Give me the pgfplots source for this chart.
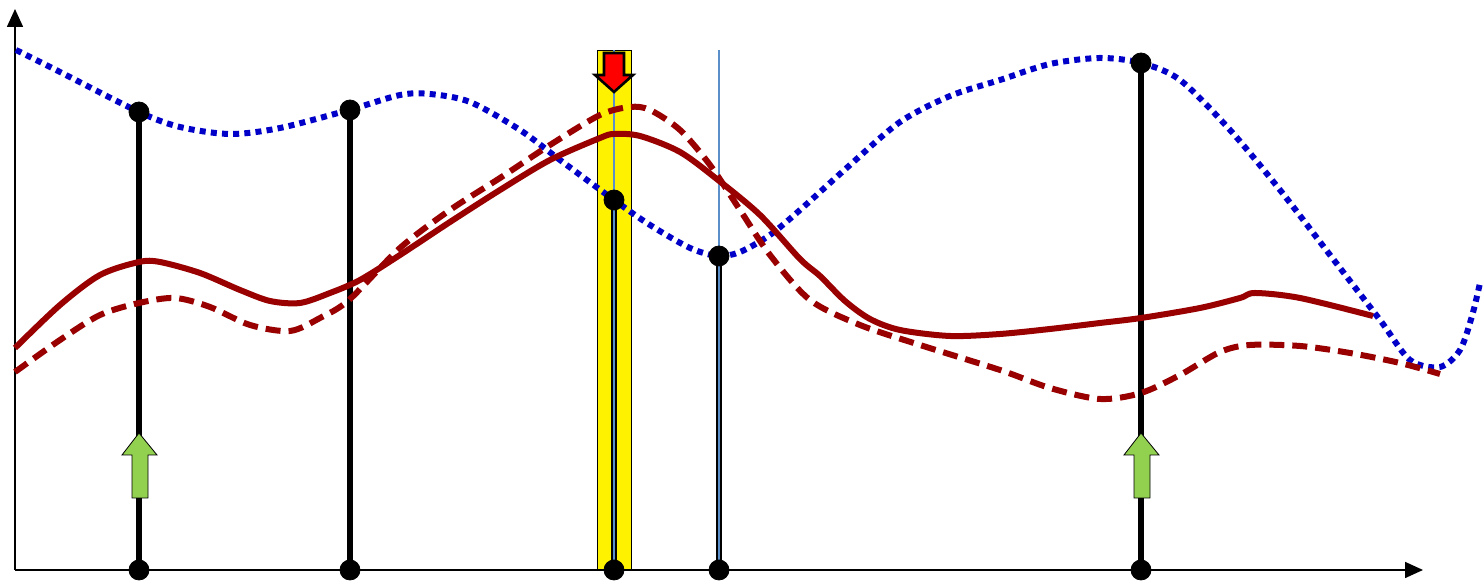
\documentclass[border=0pt]{standalone}
\usepackage{pgfplots}
\pgfplotsset{compat=1.18}
\usetikzlibrary{arrows.meta}
\definecolor{dred}{HTML}{990000}
\definecolor{dblue}{HTML}{0000C8}
\definecolor{lblue}{HTML}{5B8FC9}
\definecolor{lgreen}{HTML}{92D050}
\begin{document}
\begin{tikzpicture}
\begin{axis}[
  scale only axis,
  width=742pt, height=290.5pt,
  xmin=0, xmax=1484,
  ymin=0, ymax=581,
  axis lines=none,
  clip=false,
]
% frame corners (bounding box)
\addplot[draw=none] coordinates {(0,0) (1484,581)};
% highlight band
\addplot[fill=yellow, draw=black, line width=0.4pt] coordinates {(597,11) (631,11) (631,531) (597,531)} -- cycle;
% axes
\addplot[line width=0.8pt, -{Triangle[length=9pt,width=8pt]}] coordinates {(15,11) (15,572)};
\addplot[line width=0.8pt, -{Triangle[length=9pt,width=8pt]}] coordinates {(15,11) (1423,11)};
% stems
\addplot[black, line width=3pt] coordinates {(139,11) (139,469)};
\addplot[black, line width=3pt] coordinates {(350,11) (350,471)};
\addplot[black, line width=3pt] coordinates {(614,11) (614,381)};
\addplot[black, line width=3pt] coordinates {(719,11) (719,325)};
\addplot[black, line width=3pt] coordinates {(1141,11) (1141,518)};
% thin guide lines
\addplot[lblue, line width=1pt] coordinates {(614,11) (614,531)};
\addplot[lblue, line width=1pt] coordinates {(719,11) (719,531)};
% blue dotted curve
\addplot[dblue, line width=3pt, smooth, dash pattern=on 3pt off 2.6pt] coordinates {
(16,531) (60,509) (139,469) (180,454) (230,447) (280,453) (349,471) (400,486)
(430,487) (470,479) (520,451) (560,421) (614,381) (650,356) (690,333) (718,325)
(740,329) (770,346) (800,371) (850,416) (900,459) (950,485) (1000,501) (1050,517)
(1100,523) (1141,518) (1180,501) (1230,451) (1280,391) (1330,326) (1380,261)
(1410,221) (1440,214) (1460,231) (1472,265) (1480,298)};
% red solid curve
\addplot[dred, line width=3pt, smooth] coordinates {
(15,233) (60,276) (100,306) (139,319) (160,319) (200,308) (240,291) (270,280)
(300,278) (330,288) (360,301) (400,326) (450,359) (500,391) (550,421) (600,443)
(614,447) (640,445) (680,429) (718,401) (760,366) (800,322) (820,305) (845,280)
(870,262) (900,251) (950,245) (1000,247) (1050,252) (1100,258) (1141,263) (1200,273)
(1240,283) (1255,288) (1300,283) (1373,265)};
% red dashed curve
\addplot[dred, line width=3pt, smooth, dash pattern=on 7.5pt off 4pt] coordinates {
(15,209) (60,241) (100,266) (139,278) (175,283) (210,274) (250,256) (290,250)
(320,263) (349,281) (400,333) (450,371) (500,403) (550,436) (600,466) (630,474)
(650,471) (680,451) (710,416) (740,371) (770,326) (810,281) (860,256) (920,236)
(1000,211) (1050,193) (1100,182) (1141,188) (1180,206) (1220,229) (1250,236)
(1300,235) (1350,228) (1400,218) (1440,207)};
% dots
\addplot[only marks, mark=*, mark size=5pt, black] coordinates {
(139,469) (350,471) (614,381) (719,325) (1141,518)
(139,11) (350,11) (614,11) (719,11) (1141,11)};
% green up arrows
\addplot[fill=lgreen, draw=black, line width=0.4pt] coordinates {
(132,83) (148,83) (148,126) (157,126) (139,148) (122,126) (132,126)} -- cycle;
\addplot[fill=lgreen, draw=black, line width=0.4pt] coordinates {
(1134,83) (1150,83) (1150,126) (1159,126) (1141,148) (1124,126) (1134,126)} -- cycle;
% red down arrow
\addplot[fill=red, draw=black, line width=1.3pt] coordinates {
(604,528) (624,528) (624,506) (633,506) (614,489) (595,506) (604,506)} -- cycle;
\end{axis}
\end{tikzpicture}
\end{document}
